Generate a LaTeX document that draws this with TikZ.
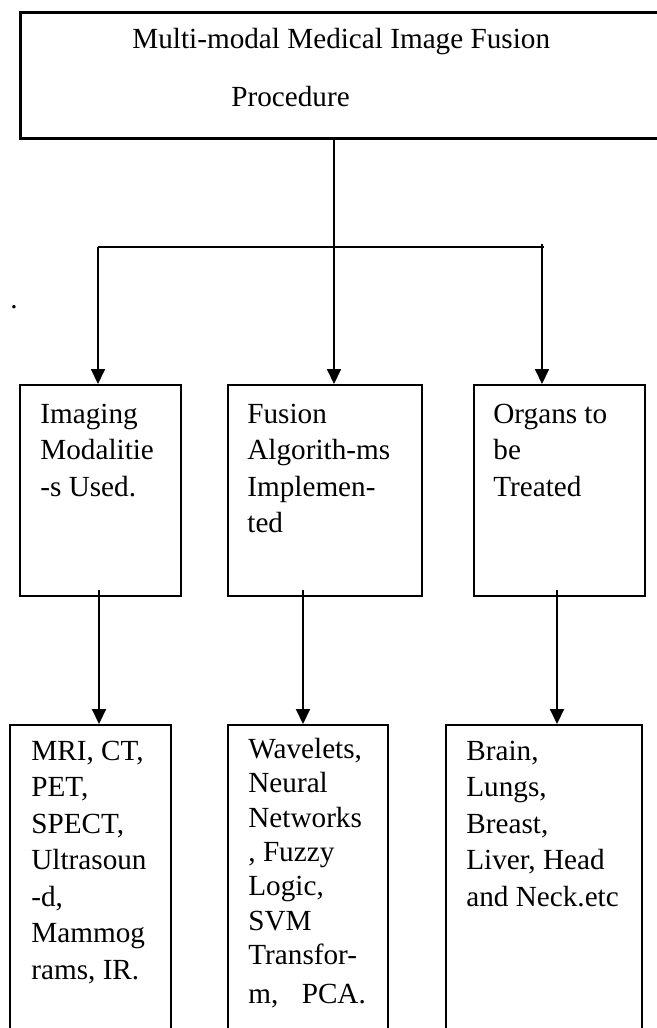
\documentclass[tikz,border=0pt]{standalone}
\usepackage{fontspec}
\setmainfont{Liberation Serif}
\usetikzlibrary{arrows.meta}

\tikzset{
  box/.style={draw, line width=1pt, rectangle, inner sep=0pt, anchor=north west},
  txt/.style={anchor=base west, align=left, inner sep=0pt, font=\fontsize{14.6}{18.25}\selectfont},
}

\begin{document}
\begin{tikzpicture}[line cap=butt,line join=miter,>={Triangle[length=7.5pt,width=7pt]},x=0.5pt,y=-0.5pt]
                \useasboundingbox (0,0) rectangle (657,1028);
                \clip (0,0) rectangle (657,1028);
                % top box
                \node[box, line width=1.4pt, minimum width=322.5pt, minimum height=63pt] (proc) at (19,11) {};
                \node[txt] (proctop) at (132,48) {Multi-modal Medical Image Fusion};
                \node[txt] (procbot) at (231,106) {Procedure};
                \node[txt] (dot) at (10,308) {.};
                % middle row (text placed by the baseline of its last line)
                \node[box, minimum width=80.5pt, minimum height=105.5pt] (modal) at (19,384) {};
                \node[box, minimum width=97pt, minimum height=105.5pt] (algo) at (227,384) {};
                \node[box, minimum width=85.5pt, minimum height=105.5pt] (organ) at (473,384) {};
                \node[txt] (modaltxt) at (40,496) {Imaging\\Modalitie\\-s Used.};
                \node[txt] (algotxt) at (247,532.5) {Fusion\\Algorith-ms\\Implemen-\\ted};
                \node[txt] (organtxt) at (493,496) {Organs to\\be\\Treated};
                % bottom row
                \node[box, minimum width=80.5pt, minimum height=158pt] (modlist) at (9,724) {};
                \node[box, minimum width=80pt, minimum height=158pt] (algolist) at (227,724) {};
                \node[box, minimum width=98pt, minimum height=158pt] (organlist) at (445,724) {};
                \node[txt] (modlisttxt) at (31,979) {MRI, CT,\\PET,\\SPECT,\\Ultrasoun\\-d,\\Mammog\\rams, IR.};
                \node[txt, font=\fontsize{14.6}{17.15}\selectfont] (algolisttxt) at (248,1003) {Wavelets,\\Neural\\Networks\\, Fuzzy\\Logic,\\SVM\\Transfor-\\[2.2pt]m,\hspace{0.8em}PCA.};
                \node[txt] (organlisttxt) at (466,906) {Brain,\\Lungs,\\Breast,\\Liver, Head\\and Neck.etc};
                % connectors
                \coordinate (bus) at (334,247);
                \coordinate (busl) at (98,247);
                \coordinate (busr) at (542,247);
                \draw [line width=1pt] (proc.south -| bus) -- (bus);
                \draw [line width=1pt] (busl) -- ([xshift=1pt]busr);
                \draw [->, line width=1pt] (busl) -- (busl |- modal.north);
                \draw [->, line width=1pt] (bus) -- (bus |- algo.north);
                \draw [->, line width=1pt] ([yshift=1.5pt]busr) -- (busr |- organ.north);
                \coordinate (down1) at ([xshift=-0.75pt,yshift=3.5pt]modal.south);
                \coordinate (down2) at ([xshift=-11pt,yshift=3.5pt]algo.south);
                \coordinate (down3) at ([xshift=-1.25pt,yshift=3.5pt]organ.south);
                \draw [->, line width=1pt] (down1) -- (down1 |- modlist.north);
                \draw [->, line width=1pt] (down2) -- (down2 |- algolist.north);
                \draw [->, line width=1pt] (down3) -- (down3 |- organlist.north);
            \end{tikzpicture}
\end{document}
